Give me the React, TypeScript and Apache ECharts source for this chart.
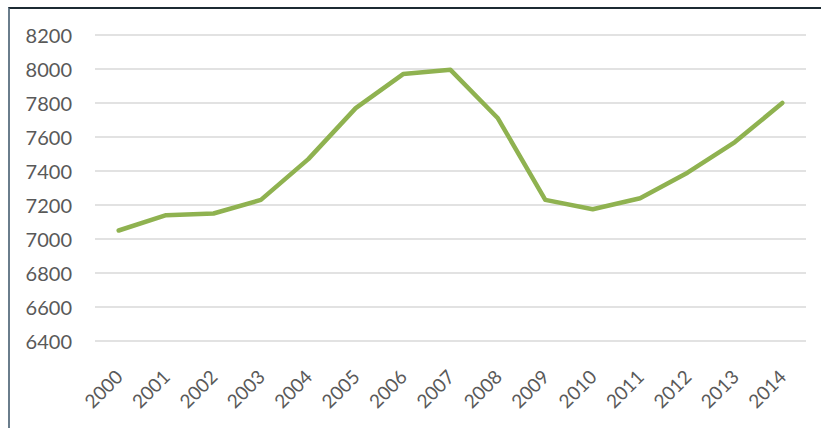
import React, { useEffect, useRef } from "react";
import * as echarts from "echarts";

const years = ["2000","2001","2002","2003","2004","2005","2006","2007","2008","2009","2010","2011","2012","2013","2014"];
const values = [7050, 7140, 7150, 7230, 7470, 7770, 7970, 7995, 7710, 7230, 7175, 7240, 7390, 7570, 7800];

export default function App() {
  const ref = useRef<HTMLDivElement>(null);
  useEffect(() => {
    if (!ref.current) return;
    const chart = echarts.init(ref.current, undefined, { renderer: "svg" });
    chart.setOption({
      animation: false,
      backgroundColor: "transparent",
      grid: { left: 95, right: 15, top: 35, bottom: 87, containLabel: false },
      xAxis: {
        type: "category",
        data: years,
        boundaryGap: true,
        axisLine: { show: false },
        axisTick: { show: false },
        axisLabel: {
          rotate: 45,
          margin: 32,
          color: "#595959",
          fontFamily: "Lato",
          fontSize: 19,
          interval: 0,
        },
      },
      yAxis: {
        type: "value",
        min: 6400,
        max: 8200,
        interval: 200,
        axisLine: { show: false },
        axisTick: { show: false },
        axisLabel: {
          color: "#595959",
          fontFamily: "Lato",
          fontSize: 20,
          margin: 23,
          formatter: (v: number) => String(v),
        },
        splitLine: { lineStyle: { color: "#d9d9d9", width: 1.5 } },
      },
      series: [
        {
          type: "line",
          data: values,
          symbol: "none",
          lineStyle: { color: "#8fb250", width: 4.5, cap: "round", join: "round" },
        },
      ],
    });
    return () => chart.dispose();
  }, []);
  return (
    <div style={{ position: "fixed", left: 0, top: 0, width: 821, height: 428, background: "#fff" }}>
      <div
        style={{
          position: "absolute",
          left: 8,
          top: 7,
          right: 0,
          bottom: 0,
          borderTop: "2px solid #1c2a33",
          borderLeft: "2px solid #6a7d8c",
        }}
      />
      <div ref={ref} style={{ position: "absolute", left: 0, top: 0, width: 821, height: 428 }} />
    </div>
  );
}
